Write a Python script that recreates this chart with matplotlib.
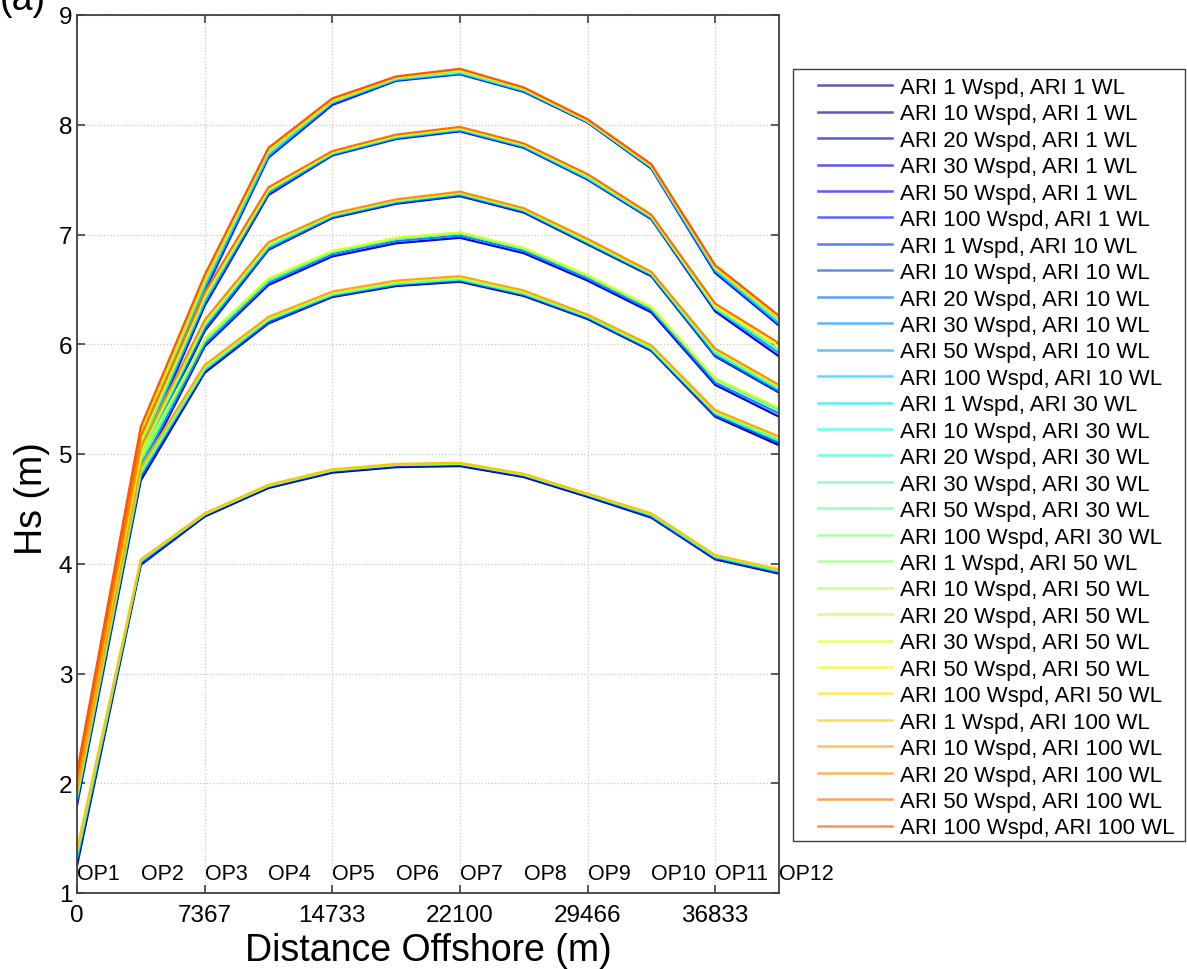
# Hs along the offshore transect for every wind speed / water level ARI combination

import numpy as np
import matplotlib.pyplot as plt
from matplotlib.patches import Rectangle

plt.rcParams['font.family'] = ['Liberation Sans', 'DejaVu Sans']

op_names = ['OP1', 'OP2', 'OP3', 'OP4', 'OP5', 'OP6', 'OP7', 'OP8', 'OP9', 'OP10', 'OP11', 'OP12']
op_dist = [0, 3683, 7367, 11050, 14733, 18416, 22100, 25783, 29466, 33149, 36833, 40516]
xtick_vals = [0, 7367, 14733, 22100, 29466, 36833]

wspd_ari = [1, 10, 20, 30, 50, 100]

# one row per wind speed ARI (1, 10, 20, 30, 50, 100)
hs_wl1 = [
    [1.25, 3.99, 4.43, 4.69, 4.83, 4.88, 4.89, 4.79, 4.61, 4.42, 4.04, 3.91],
    [1.80, 4.76, 5.74, 6.19, 6.43, 6.53, 6.57, 6.44, 6.23, 5.94, 5.34, 5.08],
    [1.88, 4.92, 6.12, 6.86, 7.15, 7.28, 7.35, 7.20, 6.91, 6.62, 5.89, 5.56],
    [1.85, 4.84, 5.98, 6.54, 6.80, 6.92, 6.97, 6.83, 6.58, 6.29, 5.63, 5.34],
    [1.92, 5.00, 6.35, 7.36, 7.72, 7.87, 7.94, 7.79, 7.50, 7.14, 6.30, 5.89],
    [1.95, 5.08, 6.48, 7.70, 8.18, 8.40, 8.46, 8.30, 8.02, 7.60, 6.65, 6.17],
]
hs_wl10 = [
    [1.29, 4.00, 4.44, 4.70, 4.84, 4.89, 4.90, 4.80, 4.62, 4.43, 4.05, 3.92],
    [1.83, 4.79, 5.76, 6.20, 6.44, 6.54, 6.58, 6.45, 6.24, 5.95, 5.35, 5.10],
    [1.91, 4.95, 6.14, 6.87, 7.16, 7.29, 7.36, 7.21, 6.92, 6.63, 5.90, 5.57],
    [1.89, 4.88, 6.00, 6.56, 6.82, 6.94, 6.99, 6.85, 6.60, 6.31, 5.65, 5.37],
    [1.95, 5.04, 6.38, 7.38, 7.73, 7.88, 7.95, 7.80, 7.51, 7.15, 6.32, 5.92],
    [1.99, 5.12, 6.52, 7.72, 8.20, 8.41, 8.47, 8.31, 8.03, 7.61, 6.67, 6.19],
]
hs_wl30 = [
    [1.32, 4.02, 4.45, 4.71, 4.85, 4.90, 4.91, 4.81, 4.63, 4.44, 4.06, 3.93],
    [1.86, 4.82, 5.77, 6.22, 6.45, 6.55, 6.59, 6.46, 6.25, 5.96, 5.37, 5.12],
    [1.94, 4.99, 6.17, 6.89, 7.17, 7.30, 7.37, 7.22, 6.93, 6.64, 5.92, 5.59],
    [1.93, 4.93, 6.03, 6.58, 6.84, 6.96, 7.01, 6.87, 6.62, 6.33, 5.68, 5.40],
    [1.99, 5.08, 6.41, 7.40, 7.74, 7.89, 7.96, 7.81, 7.52, 7.16, 6.33, 5.95],
    [2.03, 5.17, 6.56, 7.75, 8.21, 8.42, 8.48, 8.32, 8.03, 7.62, 6.69, 6.22],
]
hs_wl50 = [
    [1.36, 4.03, 4.45, 4.71, 4.85, 4.90, 4.91, 4.81, 4.63, 4.45, 4.07, 3.94],
    [1.89, 4.85, 5.79, 6.23, 6.46, 6.56, 6.60, 6.47, 6.26, 5.97, 5.38, 5.14],
    [1.97, 5.02, 6.19, 6.91, 7.18, 7.31, 7.38, 7.23, 6.94, 6.65, 5.94, 5.61],
    [1.97, 4.97, 6.05, 6.60, 6.85, 6.97, 7.02, 6.88, 6.63, 6.34, 5.69, 5.42],
    [2.02, 5.12, 6.44, 7.41, 7.75, 7.90, 7.97, 7.82, 7.54, 7.17, 6.35, 5.98],
    [2.06, 5.21, 6.59, 7.77, 8.22, 8.43, 8.50, 8.33, 8.04, 7.63, 6.70, 6.24],
]
# no ARI 30 wind speed run for the 100 yr water level
wspd_wl100 = [1, 10, 20, 50, 100]
hs_wl100 = [
    [1.40, 4.04, 4.46, 4.72, 4.86, 4.91, 4.92, 4.82, 4.64, 4.46, 4.08, 3.95],
    [1.92, 4.88, 5.81, 6.25, 6.48, 6.58, 6.62, 6.49, 6.27, 5.99, 5.40, 5.16],
    [2.01, 5.06, 6.22, 6.93, 7.19, 7.32, 7.39, 7.24, 6.96, 6.66, 5.96, 5.63],
    [2.06, 5.16, 6.47, 7.43, 7.76, 7.91, 7.98, 7.83, 7.55, 7.18, 6.37, 6.01],
    [2.10, 5.25, 6.63, 7.79, 8.24, 8.44, 8.51, 8.34, 8.05, 7.64, 6.72, 6.26],
]

runs = [(1, wspd_ari, hs_wl1), (10, wspd_ari, hs_wl10), (30, wspd_ari, hs_wl30),
        (50, wspd_ari, hs_wl50), (100, wspd_wl100, hs_wl100)]

n_series = sum(len(r[1]) for r in runs)
colours = plt.cm.jet(np.linspace(0, 0.82, n_series))

fig = plt.figure(figsize=(11.87, 9.70), dpi=100)
ax = fig.add_axes([77 / 1187, 1 - 894 / 970, (779 - 77) / 1187, (894 - 16) / 970])

k = 0
for wl, wspds, table in runs:
    for w, hs in zip(wspds, table):
        ax.plot(op_dist, hs, color=colours[k], lw=1.6,
                label='ARI %d Wspd, ARI %d WL' % (w, wl))
        k += 1

for name, d in zip(op_names, op_dist):
    ax.text(d, 1.18, name, fontsize=15.5, ha='left', va='center', clip_on=False)

ax.set_xlim(0, op_dist[-1])
ax.set_ylim(1, 9)
ax.set_xticks(xtick_vals)
ax.set_xticklabels([str(v) for v in xtick_vals])
ax.set_yticks(range(1, 10))
ax.tick_params(direction='in', length=6, width=1.2, labelsize=17.5,
               top=True, right=True, color='#404040')
ax.tick_params(axis='x', pad=8)
ax.grid(True, linestyle=':', color='#c8c8c8', lw=0.9)
for s in ax.spines.values():
    s.set_color('#404040')
    s.set_linewidth(1.3)

ax.set_xlabel('Distance Offshore (m)', fontsize=27, labelpad=4)
ax.set_ylabel('Hs (m)', fontsize=27)
ax.yaxis.set_label_coords(-0.039, 0.45)

leg = ax.legend(loc='upper left', bbox_to_anchor=(818 / 1187, 1 - 78 / 970),
                bbox_transform=fig.transFigure, borderaxespad=0, borderpad=0,
                fontsize=16, handlelength=3.33, handletextpad=0.36,
                labelspacing=0.245, frameon=False)
for h in leg.get_lines():
    h.set_linewidth(1.8)
    h.set_alpha(0.65)

# legend box drawn separately so the left padding matches
fig.add_artist(Rectangle((793 / 1187, 1 - 842 / 970), (1185 - 793) / 1187, (842 - 70) / 970,
                         transform=fig.transFigure, fill=False, ec='#404040', lw=1.0))

fig.text(0.0, 1.0, '(a)', fontsize=27, ha='left', va='center')

fig.savefig('out.png', dpi=100)
